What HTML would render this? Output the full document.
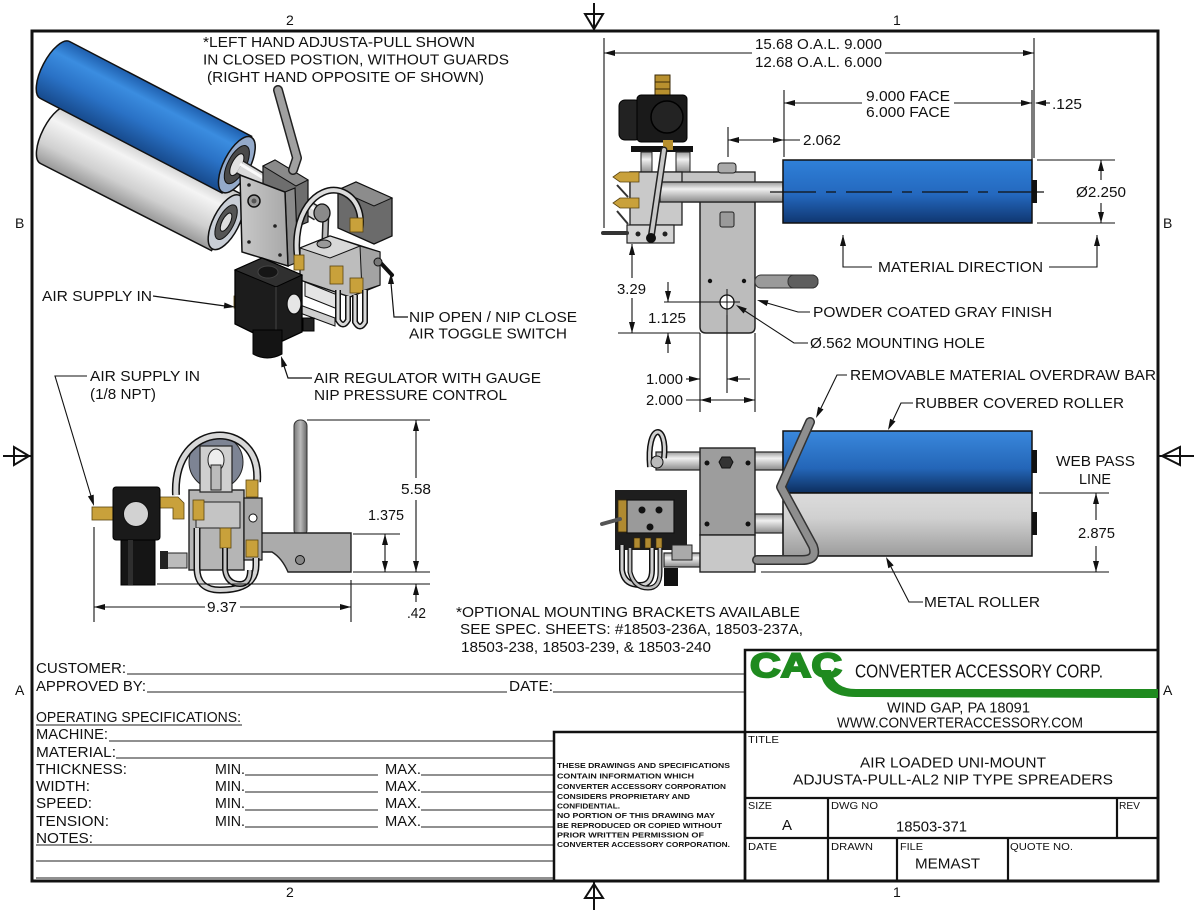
<!DOCTYPE html>
<html><head><meta charset="utf-8"><style>
html,body{margin:0;padding:0;background:#fff;}
svg{display:block;}
text{font-family:"Liberation Sans",Arial,sans-serif;fill:#111;}
</style></head><body>
<svg width="1200" height="912" viewBox="0 0 1200 912" xmlns="http://www.w3.org/2000/svg">
<defs>
<linearGradient id="bIso" x1="0" y1="0" x2="0" y2="1"><stop offset="0" stop-color="#1f5fae"/><stop offset="0.25" stop-color="#3b8de0"/><stop offset="0.6" stop-color="#2a72c6"/><stop offset="1" stop-color="#174a8c"/></linearGradient>
<linearGradient id="gIso" x1="0" y1="0" x2="0" y2="1"><stop offset="0" stop-color="#c4c4c4"/><stop offset="0.3" stop-color="#f4f4f4"/><stop offset="0.7" stop-color="#d0d0d0"/><stop offset="1" stop-color="#989898"/></linearGradient>
<linearGradient id="bSide" x1="0" y1="0" x2="0" y2="1"><stop offset="0" stop-color="#2f80d8"/><stop offset="0.55" stop-color="#2468be"/><stop offset="1" stop-color="#0f3670"/></linearGradient>
<linearGradient id="bTop" x1="0" y1="0" x2="0" y2="1"><stop offset="0" stop-color="#3a88dc"/><stop offset="0.6" stop-color="#2466b8"/><stop offset="1" stop-color="#0d2e5e"/></linearGradient>
<linearGradient id="gBot" x1="0" y1="0" x2="0" y2="1"><stop offset="0" stop-color="#dcdcdc"/><stop offset="0.4" stop-color="#d0d0d0"/><stop offset="1" stop-color="#9c9c9c"/></linearGradient>
<linearGradient id="shaft" x1="0" y1="0" x2="0" y2="1"><stop offset="0" stop-color="#9a9a9a"/><stop offset="0.35" stop-color="#f0f0f0"/><stop offset="1" stop-color="#8a8a8a"/></linearGradient>
<linearGradient id="plate" x1="0" y1="0" x2="1" y2="0"><stop offset="0" stop-color="#c8c8c8"/><stop offset="1" stop-color="#a8a8a8"/></linearGradient>
<linearGradient id="rod" x1="0" y1="0" x2="1" y2="0"><stop offset="0" stop-color="#777"/><stop offset="0.5" stop-color="#bbb"/><stop offset="1" stop-color="#666"/></linearGradient>
</defs>

<!-- border -->
<rect x="32" y="31" width="1126" height="850" fill="none" stroke="#111" stroke-width="3"/>
<!-- markers -->
<g stroke="#111" stroke-width="2" fill="none">
<line x1="594" y1="3" x2="594" y2="31"/><polygon points="585,14 603,14 594,29"/>
<line x1="594" y1="881" x2="594" y2="910"/><polygon points="585,898 603,898 594,884"/>
<line x1="3" y1="456" x2="32" y2="456"/><polygon points="14,447 14,465 29,456"/>
<line x1="1158" y1="456" x2="1194" y2="456"/><polygon points="1180,447 1180,465 1162,456"/>
</g>
<g font-size="14">
<text x="286" y="25">2</text><text x="893" y="25">1</text>
<text x="286" y="897">2</text><text x="893" y="897">1</text>
<text x="15" y="228">B</text><text x="1163" y="228">B</text>
<text x="15" y="695">A</text><text x="1163" y="695">A</text>
</g>

<!-- ============ ISOMETRIC VIEW ============ -->
<g transform="translate(55,135) rotate(27)">
<path d="M0,-32 L192,-32 L192,32 L0,32 A13,32 0 0 1 0,-32 Z" fill="url(#gIso)" stroke="#111" stroke-width="1.5"/>
<ellipse cx="192" cy="0" rx="13" ry="30" fill="#c9ced6" stroke="#111" stroke-width="1.5"/>
<ellipse cx="192" cy="0" rx="8" ry="19" fill="#555" stroke="#111"/>
<ellipse cx="192" cy="0" rx="4" ry="10" fill="#ddd" stroke="#111"/>
</g>
<g transform="translate(55,70) rotate(27.5)">
<path d="M0,-32 L205,-32 L205,32 L0,32 A13,32 0 0 1 0,-32 Z" fill="url(#bIso)" stroke="#111" stroke-width="1.5"/>
<ellipse cx="205" cy="0" rx="13" ry="31" fill="#94aaca" stroke="#111" stroke-width="1.5"/>
<ellipse cx="205" cy="0" rx="9" ry="21" fill="#4a4a4a" stroke="#111"/>
<ellipse cx="205" cy="0" rx="5" ry="12" fill="#e0e0e0" stroke="#111"/>
</g>
<line x1="240" y1="167" x2="318" y2="214" stroke="#222" stroke-width="15"/>
<line x1="240" y1="167" x2="318" y2="214" stroke="#dadada" stroke-width="12"/>
<line x1="240" y1="164" x2="318" y2="211" stroke="#fafafa" stroke-width="3"/>
<!-- handle mount & handle -->
<polygon points="263,166 275,160 308,180 308,222 296,227 263,207" fill="#6e6e6e" stroke="#111" stroke-width="1.2"/>
<polygon points="263,166 275,160 308,180 296,186" fill="#8a8a8a" stroke="#111" stroke-width="1"/>
<polyline points="278,90 297,158 293,170" fill="none" stroke="#222" stroke-width="10" stroke-linecap="round" stroke-linejoin="round"/>
<polyline points="278,90 297,158 293,170" fill="none" stroke="#a0a0a0" stroke-width="7" stroke-linecap="round" stroke-linejoin="round"/>
<!-- bracket plate -->
<polygon points="285,192 295,188 298,262 288,266" fill="#8a8a8a" stroke="#111" stroke-width="1.2"/>
<polygon points="240,175 285,192 288,266 242,252" fill="url(#plate)" stroke="#111" stroke-width="1.5"/>
<circle cx="254" cy="201" r="6" fill="#999" stroke="#111" stroke-width="1.5"/>
<circle cx="254" cy="201" r="2.5" fill="#555"/>
<g fill="#222"><circle cx="249" cy="185" r="1.8"/><circle cx="275" cy="226" r="1.8"/><circle cx="249" cy="242" r="1.8"/><circle cx="280" cy="255" r="1.8"/></g>
<!-- mechanism -->
<polygon points="338,190 356,182 392,198 392,236 374,244 338,228" fill="#6b6b6b" stroke="#111" stroke-width="1.3"/>
<polygon points="338,190 356,182 392,198 374,206" fill="#8c8c8c" stroke="#111" stroke-width="1"/>
<path d="M298,262 C290,212 318,185 340,191 C358,197 362,215 360,228" fill="none" stroke="#111" stroke-width="7"/>
<path d="M298,262 C290,212 318,185 340,191 C358,197 362,215 360,228" fill="none" stroke="#dcdcdc" stroke-width="4"/>
<line x1="326" y1="212" x2="325" y2="240" stroke="#222" stroke-width="7"/>
<line x1="326" y1="212" x2="325" y2="240" stroke="#bbb" stroke-width="4"/>
<ellipse cx="322" cy="213" rx="8" ry="9" fill="#8a8a8a" stroke="#111" stroke-width="1.3"/>
<polygon points="300,248 330,236 380,252 380,285 350,297 300,280" fill="#bdbdbd" stroke="#111" stroke-width="1.3"/>
<polygon points="300,248 330,236 360,246 330,258" fill="#d8d8d8" stroke="#111" stroke-width="1"/>
<polygon points="360,246 380,252 380,285 362,291" fill="#a3a3a3" stroke="#111" stroke-width="1"/>
<ellipse cx="324" cy="244" rx="7" ry="4" fill="#999" stroke="#111"/>
<polygon points="305,282 340,296 340,310 305,296" fill="#e4e4e4" stroke="#111" stroke-width="1"/>
<polygon points="300,305 335,318 335,326 300,313" fill="#cfcfcf" stroke="#111" stroke-width="1"/>
<g fill="#c9a13b" stroke="#5a4410" stroke-width="0.8">
<rect x="330" y="266" width="13" height="18"/><rect x="350" y="278" width="13" height="15"/>
<rect x="350" y="218" width="13" height="14"/><rect x="294" y="255" width="10" height="15"/>
<rect x="234" y="296" width="13" height="12"/>
</g>
<path d="M338,290 L338,320 Q343,329 348,320 L348,296" fill="none" stroke="#111" stroke-width="6"/>
<path d="M338,290 L338,320 Q343,329 348,320 L348,296" fill="none" stroke="#d8d8d8" stroke-width="3"/>
<path d="M355,295 L355,322 Q360,331 365,322 L365,290" fill="none" stroke="#111" stroke-width="6"/>
<path d="M355,295 L355,322 Q360,331 365,322 L365,290" fill="none" stroke="#d8d8d8" stroke-width="3"/>
<line x1="378" y1="260" x2="392" y2="275" stroke="#111" stroke-width="4" stroke-linecap="round"/>
<circle cx="378" cy="262" r="4" fill="#777" stroke="#111"/>
<!-- regulator -->
<polygon points="235,270 262,258 302,275 302,332 276,344 235,324" fill="#1c1c1c" stroke="#000" stroke-width="1.3"/>
<polygon points="235,270 262,258 302,275 276,287" fill="#303030" stroke="#000" stroke-width="1"/>
<ellipse cx="268" cy="272" rx="10" ry="6" fill="#151515" stroke="#444"/>
<line x1="276" y1="287" x2="276" y2="344" stroke="#444"/>
<ellipse cx="294" cy="304" rx="7" ry="10" fill="#e6e6e6" stroke="#111" stroke-width="1.3"/>
<path d="M253,330 L282,330 L282,354 Q267,362 253,354 Z" fill="#141414" stroke="#000"/>
<rect x="303" y="318" width="11" height="13" fill="#222" stroke="#000"/>
<!-- iso labels -->
<g font-size="15">
<text x="203" y="47" textLength="272" lengthAdjust="spacingAndGlyphs">*LEFT HAND ADJUSTA-PULL SHOWN</text>
<text x="203" y="64.5" textLength="306" lengthAdjust="spacingAndGlyphs">IN CLOSED POSTION, WITHOUT GUARDS</text>
<text x="207" y="82" textLength="277" lengthAdjust="spacingAndGlyphs">(RIGHT HAND OPPOSITE OF SHOWN)</text>
<text x="42" y="301" textLength="110" lengthAdjust="spacingAndGlyphs">AIR SUPPLY IN</text>
<text x="409" y="322" textLength="168" lengthAdjust="spacingAndGlyphs">NIP OPEN / NIP CLOSE</text>
<text x="409" y="338.5" textLength="158" lengthAdjust="spacingAndGlyphs">AIR TOGGLE SWITCH</text>
<text x="314" y="383" textLength="227" lengthAdjust="spacingAndGlyphs">AIR REGULATOR WITH GAUGE</text>
<text x="314" y="400" textLength="193" lengthAdjust="spacingAndGlyphs">NIP PRESSURE CONTROL</text>
</g>
<g stroke="#111" stroke-width="1.2" fill="none">
<line x1="153" y1="296" x2="225" y2="306"/>
<polyline points="408,317 394,317 391,283"/>
<polyline points="312,378 288,378 284,366"/>
</g>
<g fill="#111">
<polygon points="235,307 223.7,308.5 224.5,302.5"/>
<polygon points="391,273 388,284 394,284"/>
<polygon points="281,356 287.2,365.6 281.4,367.4"/>
</g>

<!-- ============ TOP RIGHT VIEW ============ -->
<rect x="655" y="75" width="15" height="21" fill="#b8902e" stroke="#3a2a08"/>
<line x1="655" y1="82" x2="670" y2="82" stroke="#3a2a08"/><line x1="655" y1="89" x2="670" y2="89" stroke="#3a2a08"/>
<rect x="619" y="100" width="22" height="40" rx="6" fill="#222" stroke="#000"/>
<rect x="637" y="95" width="50" height="47" rx="4" fill="#1a1a1a" stroke="#000"/>
<circle cx="667" cy="117" r="16" fill="#232323" stroke="#000" stroke-width="1.5"/>
<rect x="631" y="146" width="62" height="6" fill="#111"/>
<rect x="663" y="140" width="10" height="10" fill="#b8902e"/>
<rect x="641" y="152" width="11" height="21" fill="url(#shaft)" stroke="#222"/>
<rect x="676" y="152" width="14" height="21" fill="url(#shaft)" stroke="#222"/>
<path d="M700,200 L700,327 Q700,333 706,333 L749,333 Q755,333 755,327 L755,200 Z" fill="#bcbcbc" stroke="#222" stroke-width="1.5"/>
<rect x="630" y="172" width="125" height="30" fill="#c4c4c4" stroke="#222" stroke-width="1.3"/>
<rect x="630" y="172" width="52" height="53" fill="#c9c9c9" stroke="#222" stroke-width="1.3"/>
<rect x="718" y="163" width="18" height="10" rx="3" fill="#aaa" stroke="#222"/>
<rect x="660" y="182" width="123" height="20" fill="url(#shaft)" stroke="#222" stroke-width="1.3"/>
<rect x="720" y="212" width="14" height="15" rx="2" fill="#9a9a9a" stroke="#222"/>
<g fill="#c9a13b" stroke="#5a4410" stroke-width="0.8">
<polygon points="613,177 620,172 639,172 639,182 620,182"/>
<polygon points="613,203 620,198 639,198 639,208 620,208"/>
</g>
<g stroke="#333" stroke-width="2"><line x1="617" y1="185" x2="628" y2="197"/><line x1="617" y1="211" x2="628" y2="224"/></g>
<rect x="627" y="225" width="47" height="18" fill="#d5d5d5" stroke="#222" stroke-width="1.2"/>
<circle cx="638" cy="234" r="2.5" fill="#222"/><circle cx="665" cy="234" r="2.5" fill="#222"/>
<line x1="603" y1="233" x2="627" y2="233" stroke="#333" stroke-width="4" stroke-linecap="round"/>
<line x1="664" y1="150" x2="651" y2="238" stroke="#222" stroke-width="7" stroke-linecap="round"/>
<line x1="664" y1="150" x2="651" y2="238" stroke="#c8c8c8" stroke-width="4" stroke-linecap="round"/>
<circle cx="651" cy="238" r="5" fill="#111"/>
<rect x="755" y="275" width="63" height="13" rx="6" fill="#9a9a9a" stroke="#333"/>
<rect x="788" y="275" width="30" height="13" rx="6" fill="#5e5e5e" stroke="#333"/>
<circle cx="710" cy="281" r="2.2" fill="#111"/><circle cx="744" cy="281" r="2.2" fill="#111"/>
<circle cx="727" cy="302" r="7" fill="#fff" stroke="#111" stroke-width="1.3"/>
<g stroke="#111" stroke-width="1"><line x1="714" y1="302" x2="740" y2="302"/><line x1="727" y1="289" x2="727" y2="315"/></g>
<rect x="783" y="160" width="249" height="63" fill="url(#bSide)" stroke="#111" stroke-width="1.5"/>
<rect x="1032" y="180" width="5" height="23" fill="#111"/>
<line x1="770" y1="192" x2="1045" y2="192" stroke="#111" stroke-width="1.2" stroke-dasharray="46 10 10 10"/>
<g stroke="#111" stroke-width="1.1" fill="none">
<line x1="604" y1="38" x2="604" y2="228"/>
<line x1="1034" y1="38" x2="1034" y2="158"/>
<line x1="1032" y1="90" x2="1032" y2="178"/>
<line x1="604" y1="53" x2="752" y2="53"/><line x1="885" y1="53" x2="1034" y2="53"/>
<line x1="784" y1="90" x2="784" y2="157"/>
<line x1="784" y1="103" x2="862" y2="103"/><line x1="954" y1="103" x2="1032" y2="103"/>
<line x1="1036" y1="103" x2="1050" y2="103"/>
<line x1="728" y1="127" x2="728" y2="157"/>
<line x1="728" y1="140" x2="800" y2="140"/>
<line x1="1037" y1="160" x2="1115" y2="160"/><line x1="1037" y1="223" x2="1115" y2="223"/>
<line x1="1101" y1="160" x2="1101" y2="180"/><line x1="1101" y1="203" x2="1101" y2="223"/>
<polyline points="843,235 843,267 872,267"/><polyline points="1049,267 1097,267 1097,235"/>
<line x1="632" y1="244" x2="632" y2="278"/><line x1="632" y1="298" x2="632" y2="333"/>
<line x1="618" y1="333" x2="700" y2="333"/>
<line x1="668" y1="282" x2="668" y2="302"/><line x1="664" y1="302" x2="714" y2="302"/>
<line x1="668" y1="333" x2="668" y2="353"/>
<line x1="700" y1="333" x2="700" y2="412"/><line x1="727" y1="315" x2="727" y2="393"/><line x1="755" y1="333" x2="755" y2="412"/>
<line x1="686" y1="379" x2="700" y2="379"/><line x1="727" y1="379" x2="750" y2="379"/>
<line x1="686" y1="400" x2="755" y2="400"/>
<polyline points="810,312 798,312 767,303"/>
<polyline points="808,343 794,343 745,311"/>
</g>
<g fill="#111">
<polygon points="604,53 615,50 615,56"/><polygon points="1034,53 1023,50 1023,56"/>
<polygon points="784,103 795,100 795,106"/><polygon points="1032,103 1021,100 1021,106"/>
<polygon points="1035,103 1046,100 1046,106"/>
<polygon points="728,140 739,137 739,143"/><polygon points="784,140 773,137 773,143"/>
<polygon points="1101,160 1098,171 1104,171"/><polygon points="1101,223 1098,212 1104,212"/>
<polygon points="843,235 840,246 846,246"/><polygon points="1097,235 1094,246 1100,246"/>
<polygon points="632,244 629,255 635,255"/><polygon points="632,333 629,322 635,322"/>
<polygon points="668,302 665,291 671,291"/><polygon points="668,333 665,344 671,344"/>
<polygon points="700,379 689,376 689,382"/><polygon points="727,379 738,376 738,382"/>
<polygon points="700,400 711,397 711,403"/><polygon points="755,400 744,397 744,403"/>
<polygon points="757,300 768.4,300.2 766.8,306"/>
<polygon points="736,305 746.8,308.5 743.6,313.5"/>
</g>
<g font-size="15">
<text x="755" y="49" textLength="127" lengthAdjust="spacingAndGlyphs">15.68 O.A.L. 9.000</text>
<text x="755" y="67" textLength="127" lengthAdjust="spacingAndGlyphs">12.68 O.A.L. 6.000</text>
<text x="866" y="101" textLength="84" lengthAdjust="spacingAndGlyphs">9.000 FACE</text>
<text x="866" y="117" textLength="84" lengthAdjust="spacingAndGlyphs">6.000 FACE</text>
<text x="1052" y="109" textLength="30" lengthAdjust="spacingAndGlyphs">.125</text>
<text x="803" y="145" textLength="38" lengthAdjust="spacingAndGlyphs">2.062</text>
<text x="1076" y="197" textLength="50" lengthAdjust="spacingAndGlyphs">Ø2.250</text>
<text x="878" y="272" textLength="165" lengthAdjust="spacingAndGlyphs">MATERIAL DIRECTION</text>
<text x="617" y="294" textLength="29" lengthAdjust="spacingAndGlyphs">3.29</text>
<text x="648" y="323" textLength="38" lengthAdjust="spacingAndGlyphs">1.125</text>
<text x="813" y="317" textLength="239" lengthAdjust="spacingAndGlyphs">POWDER COATED GRAY FINISH</text>
<text x="810" y="348" textLength="175" lengthAdjust="spacingAndGlyphs">Ø.562 MOUNTING HOLE</text>
<text x="646" y="384" textLength="37" lengthAdjust="spacingAndGlyphs">1.000</text>
<text x="646" y="405" textLength="37" lengthAdjust="spacingAndGlyphs">2.000</text>
</g>

<!-- ============ BOTTOM RIGHT VIEW ============ -->
<rect x="615" y="490" width="72" height="60" fill="#1e1e1e"/>
<rect x="656" y="452" width="127" height="18" fill="url(#shaft)" stroke="#222" stroke-width="1.2"/>
<rect x="755" y="514" width="28" height="19" fill="url(#shaft)" stroke="#222" stroke-width="1.2"/>
<rect x="664" y="553" width="36" height="14" fill="url(#shaft)" stroke="#222" stroke-width="1.2"/>
<path d="M650,467 C646,422 668,422 664,458" fill="none" stroke="#111" stroke-width="6"/>
<path d="M650,467 C646,422 668,422 664,458" fill="none" stroke="#cfcfcf" stroke-width="3"/>
<circle cx="657" cy="462" r="6" fill="#bbb" stroke="#111"/>
<rect x="700" y="448" width="55" height="87" fill="#9d9d9d" stroke="#222" stroke-width="1.4"/>
<rect x="700" y="535" width="55" height="37" fill="#c8c8c8" stroke="#222" stroke-width="1.4"/>
<g fill="#111"><circle cx="707" cy="463" r="2.5"/><circle cx="748" cy="463" r="2.5"/><circle cx="707" cy="524" r="2.5"/><circle cx="748" cy="524" r="2.5"/></g>
<polygon points="722,457 730,457 733,462 730,468 722,468 719,462" fill="#333" stroke="#111"/>
<rect x="618" y="500" width="14" height="32" fill="#b08a30" stroke="#3a2a08" stroke-width="0.8"/>
<rect x="627" y="500" width="47" height="33" fill="#9a9a9a" stroke="#111" stroke-width="1.2"/>
<g fill="#111"><circle cx="642" cy="510" r="3.5"/><circle cx="659" cy="510" r="3.5"/><circle cx="650" cy="527" r="3.5"/></g>
<line x1="602" y1="524" x2="620" y2="519" stroke="#555" stroke-width="4" stroke-linecap="round"/>
<g fill="#b08a30" stroke="#3a2a08" stroke-width="0.6"><rect x="634" y="538" width="6" height="10"/><rect x="645" y="538" width="6" height="10"/><rect x="656" y="538" width="6" height="10"/></g>
<rect x="672" y="545" width="20" height="15" fill="#aaa" stroke="#222"/>
<path d="M622,545 L622,570 Q624,585 640,585 Q652,585 652,570 L652,548" fill="none" stroke="#111" stroke-width="6"/>
<path d="M622,545 L622,570 Q624,585 640,585 Q652,585 652,570 L652,548" fill="none" stroke="#cfcfcf" stroke-width="3"/>
<path d="M630,548 L630,572 Q634,588 648,588 Q660,588 660,572 L660,548" fill="none" stroke="#111" stroke-width="5"/>
<path d="M630,548 L630,572 Q634,588 648,588 Q660,588 660,572 L660,548" fill="none" stroke="#bdbdbd" stroke-width="2.5"/>
<rect x="664" y="568" width="14" height="18" fill="#111"/>
<rect x="783" y="431" width="249" height="62" fill="url(#bTop)" stroke="#111" stroke-width="1.5"/>
<rect x="783" y="493" width="249" height="63" fill="url(#gBot)" stroke="#111" stroke-width="1.5"/>
<rect x="1032" y="450" width="5" height="23" fill="#111"/><rect x="1032" y="512" width="5" height="23" fill="#111"/>
<path d="M810,422 L781,487 L813,546 Q818,560 802,560 L757,560" fill="none" stroke="#333" stroke-width="10" stroke-linecap="round" stroke-linejoin="round"/>
<path d="M810,422 L781,487 L813,546 Q818,560 802,560 L757,560" fill="none" stroke="#8e8e8e" stroke-width="7" stroke-linecap="round" stroke-linejoin="round"/>
<g stroke="#111" stroke-width="1.1" fill="none">
<line x1="1039" y1="493" x2="1109" y2="493"/><line x1="761" y1="572" x2="1109" y2="572"/>
<line x1="1096" y1="493" x2="1096" y2="520"/><line x1="1096" y1="546" x2="1096" y2="572"/>
<polyline points="847,375 837,375 821,408"/>
<polyline points="913,403 901,403 893,420"/>
<polyline points="923,602 909,602 891,567"/>
</g>
<g fill="#111">
<polygon points="1096,493 1093,504 1099,504"/><polygon points="1096,572 1093,561 1099,561"/>
<polygon points="816,418 823.5,409.4 818.1,406.8"/>
<polygon points="888,430 895.5,421.4 890.1,418.8"/>
<polygon points="886,557 893.7,565.4 888.3,568.2"/>
</g>
<g font-size="15">
<text x="850" y="380" textLength="306" lengthAdjust="spacingAndGlyphs">REMOVABLE MATERIAL OVERDRAW BAR</text>
<text x="915" y="408" textLength="209" lengthAdjust="spacingAndGlyphs">RUBBER COVERED ROLLER</text>
<text x="1056" y="466" textLength="79" lengthAdjust="spacingAndGlyphs">WEB PASS</text>
<text x="1079" y="484" textLength="32" lengthAdjust="spacingAndGlyphs">LINE</text>
<text x="1078" y="538" textLength="37" lengthAdjust="spacingAndGlyphs">2.875</text>
<text x="924" y="607" textLength="116" lengthAdjust="spacingAndGlyphs">METAL ROLLER</text>
</g>

<!-- ============ BOTTOM LEFT VIEW ============ -->
<circle cx="216" cy="462" r="27" fill="#7d8494" stroke="#222"/>
<path d="M176,495 C172,418 262,418 257,482" fill="none" stroke="#111" stroke-width="8"/>
<path d="M176,495 C172,418 262,418 257,482" fill="none" stroke="#d8d8d8" stroke-width="5"/>
<rect x="294" y="420" width="13" height="116" rx="6" fill="url(#rod)" stroke="#333"/>
<path d="M244,533 L351,533 L351,572 L288,572 Q282,558 272,552 L244,552 Z" fill="#ababab" stroke="#222" stroke-width="1.4"/>
<circle cx="300" cy="560" r="4.5" fill="#888" stroke="#111"/>
<rect x="189" y="490" width="55" height="80" fill="#b5b5b5" stroke="#222" stroke-width="1.4"/>
<rect x="200" y="446" width="32" height="46" fill="#cfcfcf" stroke="#222" stroke-width="1.2"/>
<ellipse cx="216" cy="460" rx="8" ry="11" fill="#eee" stroke="#222"/>
<rect x="211" y="465" width="10" height="25" fill="#bbb" stroke="#222"/>
<rect x="196" y="502" width="44" height="26" fill="#c4c4c4" stroke="#222"/>
<rect x="244" y="498" width="18" height="62" fill="#a8a8a8" stroke="#111" stroke-width="1.2"/>
<circle cx="253" cy="518" r="4" fill="#fff" stroke="#111"/>
<g fill="#c9a13b" stroke="#5a4410" stroke-width="0.8">
<rect x="246" y="480" width="12" height="17"/><rect x="246" y="540" width="12" height="17"/>
<rect x="193" y="500" width="11" height="20"/><rect x="220" y="528" width="11" height="20"/>
<rect x="92" y="507" width="21" height="13"/>
<path d="M160,497 L178,497 L184,503 L184,519 L173,519 L173,508 L160,508 Z"/>
</g>
<path d="M197,528 L197,568 Q197,590 220,590 Q256,590 256,565 L256,558" fill="none" stroke="#111" stroke-width="7"/>
<path d="M197,528 L197,568 Q197,590 220,590 Q256,590 256,565 L256,558" fill="none" stroke="#d4d4d4" stroke-width="4"/>
<path d="M225,548 L225,570 Q227,584 240,584 Q250,584 250,570" fill="none" stroke="#111" stroke-width="6"/>
<path d="M225,548 L225,570 Q227,584 240,584 Q250,584 250,570" fill="none" stroke="#c4c4c4" stroke-width="3"/>
<rect x="166" y="553" width="21" height="15" fill="#bbb" stroke="#222"/>
<rect x="160" y="551" width="8" height="18" fill="#222"/>
<rect x="113" y="487" width="47" height="53" rx="3" fill="#1a1a1a" stroke="#000"/>
<circle cx="136" cy="514" r="12.5" fill="#d2d2d2" stroke="#111"/>
<rect x="121" y="540" width="34" height="45" fill="#151515" stroke="#000"/>
<rect x="128" y="540" width="5" height="45" fill="#2e2e2e"/>
<g stroke="#111" stroke-width="1.1" fill="none">
<polyline points="87,376 55,376 91,496"/>
<line x1="307" y1="420" x2="430" y2="420"/>
<line x1="416" y1="420" x2="416" y2="478"/><line x1="416" y1="500" x2="416" y2="572"/>
<line x1="353" y1="534" x2="400" y2="534"/>
<line x1="385" y1="534" x2="385" y2="572"/>
<line x1="353" y1="572" x2="430" y2="572"/>
<line x1="157" y1="584" x2="430" y2="584"/>
<line x1="416" y1="584" x2="416" y2="602"/>
<line x1="94" y1="527" x2="94" y2="622"/><line x1="351" y1="580" x2="351" y2="622"/>
<line x1="94" y1="607" x2="205" y2="607"/><line x1="240" y1="607" x2="351" y2="607"/>
</g>
<g fill="#111">
<polygon points="94,506 93.7,494.6 87.9,496.4"/>
<polygon points="416,420 413,431 419,431"/><polygon points="416,572 413,561 419,561"/>
<polygon points="385,534 382,545 388,545"/><polygon points="385,572 382,561 388,561"/>
<polygon points="416,584 413,595 419,595"/>
<polygon points="94,607 105,604 105,610"/><polygon points="351,607 340,604 340,610"/>
</g>
<g font-size="15">
<text x="90" y="381" textLength="110" lengthAdjust="spacingAndGlyphs">AIR SUPPLY IN</text>
<text x="90" y="399" textLength="66" lengthAdjust="spacingAndGlyphs">(1/8 NPT)</text>
<text x="401" y="494" textLength="30" lengthAdjust="spacingAndGlyphs">5.58</text>
<text x="368" y="520" textLength="36" lengthAdjust="spacingAndGlyphs">1.375</text>
<text x="407" y="618" textLength="19" lengthAdjust="spacingAndGlyphs">.42</text>
<text x="207" y="612" textLength="30" lengthAdjust="spacingAndGlyphs">9.37</text>
<text x="456" y="617" textLength="344" lengthAdjust="spacingAndGlyphs">*OPTIONAL MOUNTING BRACKETS AVAILABLE</text>
<text x="460" y="634" textLength="343" lengthAdjust="spacingAndGlyphs">SEE SPEC. SHEETS: #18503-236A, 18503-237A,</text>
<text x="461" y="652" textLength="250" lengthAdjust="spacingAndGlyphs">18503-238, 18503-239, &amp; 18503-240</text>
</g>

<!-- ============ FORM ============ -->
<g stroke="#222" stroke-width="1.1">
<line x1="127" y1="674" x2="745" y2="674"/>
<line x1="147" y1="692" x2="507" y2="692"/><line x1="553" y1="692" x2="745" y2="692"/>
<line x1="36" y1="725" x2="242" y2="725"/>
<line x1="109" y1="741" x2="554" y2="741"/>
<line x1="116" y1="758" x2="554" y2="758"/>
<line x1="245" y1="775" x2="378" y2="775"/><line x1="421" y1="775" x2="554" y2="775"/>
<line x1="245" y1="792" x2="378" y2="792"/><line x1="421" y1="792" x2="554" y2="792"/>
<line x1="245" y1="810" x2="378" y2="810"/><line x1="421" y1="810" x2="554" y2="810"/>
<line x1="245" y1="827" x2="378" y2="827"/><line x1="421" y1="827" x2="554" y2="827"/>
<line x1="36" y1="845" x2="554" y2="845"/>
<line x1="36" y1="861" x2="554" y2="861"/>
<line x1="36" y1="878" x2="554" y2="878"/>
</g>
<g font-size="15">
<text x="36" y="673" textLength="90" lengthAdjust="spacingAndGlyphs">CUSTOMER:</text>
<text x="36" y="691" textLength="110" lengthAdjust="spacingAndGlyphs">APPROVED BY:</text>
<text x="509" y="691" textLength="44" lengthAdjust="spacingAndGlyphs">DATE:</text>
<text x="36" y="722" textLength="205" lengthAdjust="spacingAndGlyphs">OPERATING SPECIFICATIONS:</text>
<text x="36" y="739" textLength="72" lengthAdjust="spacingAndGlyphs">MACHINE:</text>
<text x="36" y="757" textLength="80" lengthAdjust="spacingAndGlyphs">MATERIAL:</text>
<text x="36" y="774" textLength="91" lengthAdjust="spacingAndGlyphs">THICKNESS:</text>
<text x="36" y="791" textLength="54" lengthAdjust="spacingAndGlyphs">WIDTH:</text>
<text x="36" y="808" textLength="56" lengthAdjust="spacingAndGlyphs">SPEED:</text>
<text x="36" y="826" textLength="73" lengthAdjust="spacingAndGlyphs">TENSION:</text>
<text x="36" y="843" textLength="57" lengthAdjust="spacingAndGlyphs">NOTES:</text>
<text x="215" y="774" textLength="30" lengthAdjust="spacingAndGlyphs">MIN.</text>
<text x="215" y="791" textLength="30" lengthAdjust="spacingAndGlyphs">MIN.</text>
<text x="215" y="808" textLength="30" lengthAdjust="spacingAndGlyphs">MIN.</text>
<text x="215" y="826" textLength="30" lengthAdjust="spacingAndGlyphs">MIN.</text>
<text x="385" y="774" textLength="36" lengthAdjust="spacingAndGlyphs">MAX.</text>
<text x="385" y="791" textLength="36" lengthAdjust="spacingAndGlyphs">MAX.</text>
<text x="385" y="808" textLength="36" lengthAdjust="spacingAndGlyphs">MAX.</text>
<text x="385" y="826" textLength="36" lengthAdjust="spacingAndGlyphs">MAX.</text>
</g>

<!-- proprietary box -->
<rect x="554" y="732" width="191" height="149" fill="none" stroke="#111" stroke-width="2.5"/>
<g font-size="7.6" font-weight="bold">
<text x="557" y="768" textLength="173" lengthAdjust="spacingAndGlyphs">THESE DRAWINGS AND SPECIFICATIONS</text>
<text x="557" y="778.5" textLength="137" lengthAdjust="spacingAndGlyphs">CONTAIN INFORMATION WHICH</text>
<text x="557" y="789" textLength="169" lengthAdjust="spacingAndGlyphs">CONVERTER ACCESSORY CORPORATION</text>
<text x="557" y="799" textLength="133" lengthAdjust="spacingAndGlyphs">CONSIDERS PROPRIETARY AND</text>
<text x="557" y="808.5" textLength="63" lengthAdjust="spacingAndGlyphs">CONFIDENTIAL.</text>
<text x="557" y="818" textLength="158" lengthAdjust="spacingAndGlyphs">NO PORTION OF THIS DRAWING MAY</text>
<text x="557" y="828" textLength="165" lengthAdjust="spacingAndGlyphs">BE REPRODUCED OR COPIED WITHOUT</text>
<text x="557" y="837.5" textLength="147" lengthAdjust="spacingAndGlyphs">PRIOR WRITTEN PERMISSION OF</text>
<text x="557" y="847" textLength="173" lengthAdjust="spacingAndGlyphs">CONVERTER ACCESSORY CORPORATION.</text>
</g>

<!-- ============ TITLE BLOCK ============ -->
<rect x="745" y="650" width="413" height="231" fill="none" stroke="#111" stroke-width="2.5"/>
<g stroke="#111" stroke-width="2.2">
<line x1="745" y1="732" x2="1158" y2="732"/>
<line x1="745" y1="798" x2="1158" y2="798"/>
<line x1="745" y1="838" x2="1158" y2="838"/>
<line x1="828" y1="798" x2="828" y2="881"/>
<line x1="1117" y1="798" x2="1117" y2="838"/>
<line x1="897" y1="838" x2="897" y2="881"/>
<line x1="1008" y1="838" x2="1008" y2="881"/>
</g>
<path d="M820,670 Q823,697 856,697 L1158,698 L1158,689 L856,689 Q834,689 831,670 Z" fill="#1f8a1f"/>
<text x="750" y="677" font-size="34" font-weight="bold" textLength="92" lengthAdjust="spacingAndGlyphs" style="fill:#1f8a1f;stroke:#1f8a1f;stroke-width:2">CAC</text>
<text x="855" y="677.5" font-size="18" textLength="248" lengthAdjust="spacingAndGlyphs">CONVERTER ACCESSORY CORP.</text>
<g font-size="15">
<text x="887" y="712.5" textLength="143" lengthAdjust="spacingAndGlyphs">WIND GAP, PA 18091</text>
<text x="837" y="727.5" textLength="246" lengthAdjust="spacingAndGlyphs">WWW.CONVERTERACCESSORY.COM</text>
<text x="860" y="767.5" textLength="186" lengthAdjust="spacingAndGlyphs">AIR LOADED UNI-MOUNT</text>
<text x="793" y="784.5" textLength="320" lengthAdjust="spacingAndGlyphs">ADJUSTA-PULL-AL2 NIP TYPE SPREADERS</text>
<text x="782" y="830">A</text>
<text x="896" y="831.5" textLength="71" lengthAdjust="spacingAndGlyphs">18503-371</text>
<text x="915" y="868.5" textLength="65" lengthAdjust="spacingAndGlyphs">MEMAST</text>
</g>
<g font-size="10">
<text x="748" y="743" textLength="31" lengthAdjust="spacingAndGlyphs">TITLE</text>
<text x="748" y="809" textLength="24" lengthAdjust="spacingAndGlyphs">SIZE</text>
<text x="831" y="809" textLength="47" lengthAdjust="spacingAndGlyphs">DWG NO</text>
<text x="1119" y="809" textLength="21" lengthAdjust="spacingAndGlyphs">REV</text>
<text x="748" y="850" textLength="29" lengthAdjust="spacingAndGlyphs">DATE</text>
<text x="831" y="850" textLength="42" lengthAdjust="spacingAndGlyphs">DRAWN</text>
<text x="900" y="850" textLength="23" lengthAdjust="spacingAndGlyphs">FILE</text>
<text x="1010" y="850" textLength="63" lengthAdjust="spacingAndGlyphs">QUOTE NO.</text>
</g>
</svg>
</body></html>
